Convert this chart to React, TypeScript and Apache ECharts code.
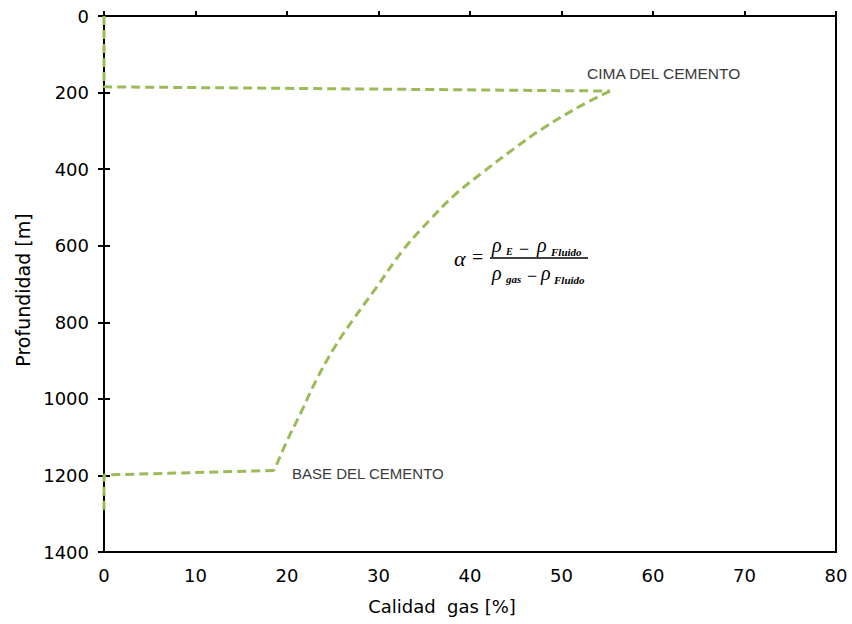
import React, { useEffect, useRef } from "react";
import * as echarts from "echarts";

// Gas quality (%) against depth (m): straight legs above the cement top,
// the curved cemented interval, and the leg below the cement base.
const topQuality = [0, 0, 55.3];
const topDepth = [0, 185, 196];
const cementQuality = [55.3, 52.3, 48.0, 44.9, 41.3, 38.3, 35.6, 32.7, 29.8, 27.2, 25.2, 23.2, 21.5, 19.9, 18.6];
const cementDepth = [196, 232, 293, 345, 410, 468, 533, 611, 708, 794, 865, 951, 1037, 1115, 1187];
const baseQuality = [18.6, 0, 0];
const baseDepth = [1187, 1199, 1290];

const xTitle = "Calidad  gas [%]";
const yTitle = "Profundidad [m]";
const topLabel = "CIMA DEL CEMENTO";
const baseLabel = "BASE DEL CEMENTO";

const AXIS_FONT = "DejaVu Sans";
const SERIF = "Liberation Serif";
const CURVE_COLOR = "#9BBB59";

const pairs = (xs: number[], ys: number[]) => xs.map((x, i) => [x, ys[i]]);

function serif(text: string, x: number, y: number, size: number, extra: any = {}) {
  return {
    type: "text",
    x,
    y,
    style: {
      text,
      fontFamily: SERIF,
      fontStyle: "italic",
      fontSize: size,
      fill: "#000",
      verticalAlign: "middle",
      align: "left",
      ...extra,
    },
  };
}

const lineSeries = (data: number[][], smooth: boolean | number) => ({
  type: "line",
  xAxisIndex: 0,
  yAxisIndex: 0,
  data,
  smooth,
  showSymbol: false,
  symbol: "none",
  lineStyle: { color: CURVE_COLOR, width: 3, type: [9, 5] },
});

export default function App() {
  const ref = useRef<HTMLDivElement>(null);

  useEffect(() => {
    if (!ref.current) return;
    const chart = echarts.init(ref.current, null, { renderer: "svg" });

    chart.setOption({
      animation: false,
      backgroundColor: "#fff",
      grid: {
        left: 104,
        right: 16,
        top: 16,
        bottom: 72,
        show: true,
        borderColor: "#000",
        borderWidth: 2,
      },
      xAxis: [
        {
          type: "value",
          position: "bottom",
          min: 0,
          max: 80,
          interval: 10,
          axisLine: { show: true, lineStyle: { color: "#000", width: 2 } },
          axisTick: { show: false },
          splitLine: { show: false },
          axisLabel: { color: "#000", fontFamily: AXIS_FONT, fontSize: 18, margin: 14 },
          name: xTitle,
          nameLocation: "middle",
          nameGap: 45,
          nameTextStyle: {
            color: "#000",
            fontFamily: AXIS_FONT,
            fontSize: 18,
            padding: [0, 56, 0, 0],
          },
        },
        {
          type: "value",
          position: "top",
          min: 0,
          max: 80,
          interval: 10,
          axisLine: { show: true, onZero: false, lineStyle: { color: "#000", width: 2 } },
          axisTick: { show: true, inside: false, length: 5, lineStyle: { color: "#000", width: 2 } },
          axisLabel: { show: false },
          splitLine: { show: false },
        },
      ],
      yAxis: [
        {
          type: "value",
          position: "left",
          inverse: true,
          min: 0,
          max: 1400,
          interval: 200,
          axisLine: { show: true, onZero: false, lineStyle: { color: "#000", width: 2 } },
          axisTick: { show: true, inside: false, length: 6, lineStyle: { color: "#000", width: 2 } },
          splitLine: { show: false },
          axisLabel: {
            color: "#000",
            fontFamily: AXIS_FONT,
            fontSize: 18,
            margin: 15,
            formatter: (v: number) => String(v),
          },
          name: yTitle,
          nameLocation: "middle",
          nameRotate: 90,
          nameGap: 70,
          nameTextStyle: {
            color: "#000",
            fontFamily: AXIS_FONT,
            fontSize: 19,
            padding: [0, 12, 0, 0],
          },
        },
        {
          type: "value",
          position: "left",
          inverse: true,
          min: 0,
          max: 1400,
          interval: 200,
          axisLine: { show: false },
          axisTick: { show: true, inside: true, length: 6, lineStyle: { color: "#000", width: 2 } },
          axisLabel: { show: false },
          splitLine: { show: false },
        },
      ],
      series: [
        lineSeries(pairs(topQuality, topDepth), false),
        lineSeries(pairs(cementQuality, cementDepth), 0.4),
        lineSeries(pairs(baseQuality, baseDepth), false),
      ],
      graphic: [
        {
          type: "text",
          x: 587,
          y: 73,
          style: {
            text: topLabel,
            fontFamily: "Liberation Sans",
            fontSize: 15.5,
            fill: "#3a3a3a",
            verticalAlign: "middle",
          },
        },
        {
          type: "text",
          x: 292,
          y: 473,
          style: {
            text: baseLabel,
            fontFamily: "Liberation Sans",
            fontSize: 15,
            fill: "#3a3a3a",
            verticalAlign: "middle",
          },
        },
        // alpha = (rho_E - rho_Fluido) / (rho_gas - rho_Fluido)
        serif("α", 454, 258, 22),
        serif("=", 472, 257, 20, { fontStyle: "normal" }),
        {
          type: "line",
          shape: { x1: 490, y1: 258, x2: 588, y2: 258 },
          style: { stroke: "#000", lineWidth: 1.3 },
        },
        serif("ρ", 492, 244.5, 20),
        serif("E", 506, 251.5, 10, { fontWeight: "bold" }),
        serif("−", 519, 249, 18, { fontStyle: "normal" }),
        serif("ρ", 537, 244.5, 20),
        serif("Fluido", 551, 251.5, 11, { fontWeight: "bold" }),
        serif("ρ", 492, 272.5, 20),
        serif("gas", 506, 278.5, 11, { fontWeight: "bold" }),
        serif("−", 527, 276, 18, { fontStyle: "normal" }),
        serif("ρ", 541, 272.5, 20),
        serif("Fluido", 554, 279.5, 11, { fontWeight: "bold" }),
      ],
    });

    return () => chart.dispose();
  }, []);

  return (
    <div
      ref={ref}
      style={{ position: "absolute", left: 0, top: 0, width: 852, height: 624 }}
    />
  );
}
